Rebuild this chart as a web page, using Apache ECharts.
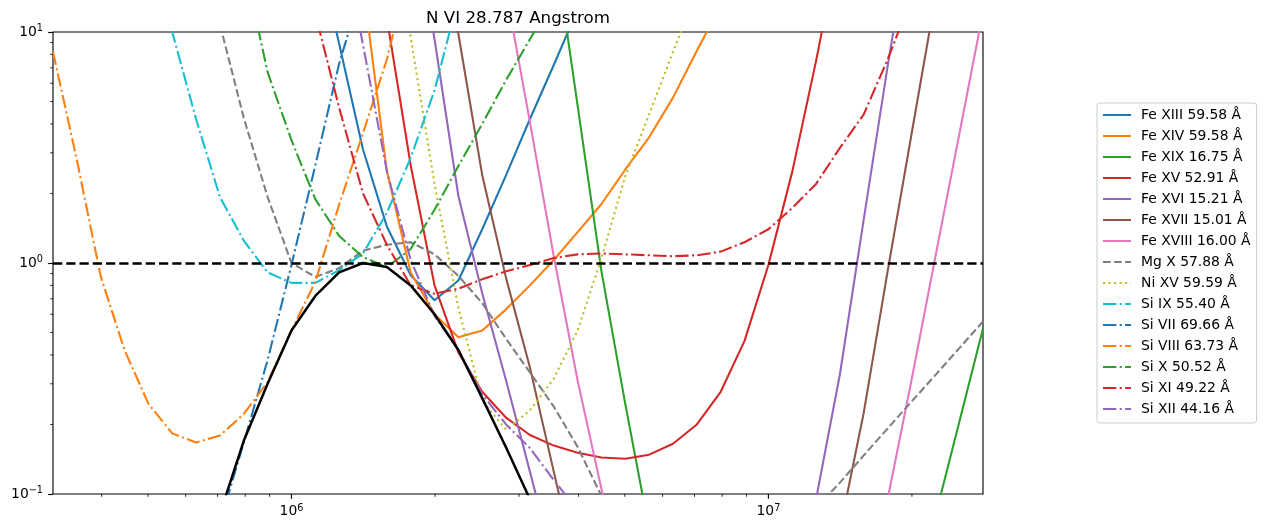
<!DOCTYPE html>
<html>
<head>
<meta charset="utf-8">
<script src="https://cdn.jsdelivr.net/npm/echarts@6/dist/echarts.min.js"></script>
<style>
html,body{margin:0;padding:0;background:#fff;}
#chart{width:1264px;height:532px;}
</style>
</head>
<body>
<div id="chart"></div>
<script>
// ---------- DATA ----------
const pad = n => Array(n).fill(null);

// log10 temperature grid (K)
const logT = [5.50,5.55,5.60,5.65,5.70,5.75,5.80,5.85,5.90,5.95,
              6.00,6.05,6.10,6.15,6.20,6.25,6.30,6.35,6.40,6.45,
              6.50,6.55,6.60,6.65,6.70,6.75,6.80,6.85,6.90,6.95,
              7.00,7.05,7.10,7.15,7.20,7.25,7.30,7.35,7.40,7.45];

const lineNames = ['Fe XIII 59.58 Å','Fe XIV 59.58 Å','Fe XIX 16.75 Å','Fe XV 52.91 Å',
  'Fe XVI 15.21 Å','Fe XVII 15.01 Å','Fe XVIII 16.00 Å','Mg X 57.88 Å','Ni XV 59.59 Å',
  'Si IX 55.40 Å','Si VII 69.66 Å','Si VIII 63.73 Å','Si X 50.52 Å','Si XI 49.22 Å','Si XII 44.16 Å'];

const feXIII  = [...pad(11), 25, 8.9, 3.1, 1.44, 0.885, 0.69, 0.84, 1.4, 2.4, 4.2, 7.2, 12.5, ...pad(17)];
const feXIV   = [...pad(13), 16, 2.5, 0.91, 0.60, 0.477, 0.51, 0.63, 0.80, 1.03, 1.36, 1.8, 2.54, 3.5, 5.2, 8.3, 13, ...pad(11)];
const feXIX   = [...pad(21), 25, 4.8, 0.92, 0.245, 0.07, ...pad(11), 0.08, 0.204, 0.52];
const feXV    = [...pad(13), 30, 11.5, 2.65, 0.80, 0.41, 0.277, 0.214, 0.18, 0.162, 0.151, 0.144, 0.142, 0.148, 0.165, 0.2, 0.277, 0.46, 0.98, 2.48, 7.5, 25, ...pad(6)];
const feXVI   = [...pad(15), 40, 9.3, 1.95, 0.74, 0.31, 0.125, 0.05, ...pad(10), 0.095, 0.33, 1.55, 7.1, 30, ...pad(3)];
const feXVII  = [...pad(16), 40, 9.8, 2.4, 0.86, 0.353, 0.125, 0.045, ...pad(10), 0.07, 0.225, 0.92, 3.6, 14, ...pad(2)];
const feXVIII = [...pad(19), 15, 4.07, 1.07, 0.31, 0.105, 0.035, ...pad(10), 0.095, 0.31, 1.06, 3.58, 12.2];
const mgX     = [...pad(6), 25, 10.8, 4.25, 1.93, 1.0, 0.87, 0.95, 1.13, 1.2, 1.23, 1.09, 0.88, 0.67, 0.47, 0.336, 0.239, 0.16, 0.098, 0.06, ...pad(7), 0.087, 0.112, 0.147, 0.192, 0.251, 0.327, 0.427, 0.558];
const niXV    = [...pad(14), 40, 9.5, 2.2, 0.64, 0.253, 0.19, 0.23, 0.316, 0.51, 1.05, 2.38, 4.4, 8.2, 15, ...pad(12)];
const siIX    = [...pad(4), 30, 10, 4.2, 1.93, 1.25, 0.91, 0.82, 0.82, 0.93, 1.1, 1.65, 2.85, 5.6, 14, ...pad(22)];
const siVII   = [...pad(7), 0.075, 0.167, 0.38, 0.98, 2.65, 7.3, 16, ...pad(26)];
const siVIII  = [8.2, 2.8, 0.875, 0.42, 0.246, 0.183, 0.167, 0.179, 0.222, 0.305, 0.51, 0.83, 1.79, 3.65, 7.6, 20, ...pad(24)];
const siX     = [...pad(8), 20, 6.7, 3.4, 1.89, 1.31, 1.06, 0.96, 1.15, 1.7, 2.63, 4.0, 6.2, 9.3, 14, ...pad(18)];
const siXI    = [...pad(10), 40, 12, 4.7, 2.0, 1.2, 0.80, 0.736, 0.774, 0.85, 0.92, 0.98, 1.05, 1.09, 1.10, 1.09, 1.08, 1.07, 1.08, 1.12, 1.23, 1.4, 1.73, 2.2, 3.15, 4.4, 7.6, 14, ...pad(3)];
const siXII   = [...pad(12), 30, 8.8, 2.5, 1.03, 0.59, 0.42, 0.27, 0.2, 0.158, 0.115, 0.085, ...pad(17)];
const nVI     = [...pad(7), 0.082, 0.17, 0.30, 0.51, 0.72, 0.91, 1.0, 0.96, 0.80, 0.60, 0.42, 0.26, 0.159, 0.095, ...pad(19)];

const lineValues = [feXIII, feXIV, feXIX, feXV, feXVI, feXVII, feXVIII, mgX, niXV,
                    siIX, siVII, siVIII, siX, siXI, siXII];

// axis ranges and tick positions
const xRange = [Math.pow(10, 5.5), Math.pow(10, 7.45)];
const yRange = [0.1, 10];
const xMajorTicks = [1e6, 1e7];
const xMinorTicks = [4e5,5e5,6e5,7e5,8e5,9e5,2e6,3e6,4e6,5e6,6e6,7e6,8e6,9e6,2e7];
const yMinorTicks = [0.2,0.3,0.4,0.5,0.6,0.7,0.8,0.9,2,3,4,5,6,7,8,9];

// ---------- STYLE ----------
const FONT = 'DejaVu Sans';
const PT = 100 / 72;
const tab = ['#1f77b4','#ff7f0e','#2ca02c','#d62728','#9467bd','#8c564b','#e377c2','#7f7f7f','#bcbd22','#17becf'];
const lw = 1.5 * PT;
const dashDot = [6.4*lw, 1.6*lw, 1*lw, 1.6*lw];
const dashed = [3.7*lw, 1.6*lw];
const dotted = [1*lw, 1.65*lw];
const blackW = 1.8 * PT;
const styles = [
  ['solid', tab[0]], ['solid', tab[1]], ['solid', tab[2]], ['solid', tab[3]],
  ['solid', tab[4]], ['solid', tab[5]], ['solid', tab[6]], [dashed, tab[7]],
  [dotted, tab[8]], [dashDot, tab[9]], [dashDot, tab[0]], [dashDot, tab[1]],
  [dashDot, tab[2]], [dashDot, tab[3]], [dashDot, tab[4]]
];

const toPairs = arr => arr.map((v, i) => [Math.pow(10, logT[i]), v]);

const series = lineNames.map((name, k) => ({
  name: name,
  type: 'line',
  data: toPairs(lineValues[k]),
  symbol: 'none',
  connectNulls: false,
  clip: true,
  z: 2,
  lineStyle: {color: styles[k][1], width: lw, type: styles[k][0], join: 'round'},
  itemStyle: {color: styles[k][1]},
  emphasis: {disabled: true}
}));

series.push({
  name: 'N VI',
  type: 'line',
  data: toPairs(nVI),
  symbol: 'none',
  clip: true,
  z: 3,
  lineStyle: {color: '#000', width: blackW, join: 'round'},
  itemStyle: {color: '#000'},
  emphasis: {disabled: true},
  markLine: {
    silent: true, symbol: 'none', animation: false,
    label: {show: false},
    lineStyle: {color: '#000', width: blackW, type: [3.7*blackW, 1.6*blackW]},
    data: [{yAxis: 1}]
  }
});

// tick marks drawn through the axes' scales
const tickSeries = (data, horizontal, len, w) => ({
  type: 'custom',
  coordinateSystem: 'cartesian2d',
  silent: true,
  clip: false,
  z: 10,
  data: data,
  renderItem: (params, api) => {
    const p = api.coord([api.value(0), api.value(1)]);
    const shape = horizontal
      ? {x1: p[0] - len, y1: p[1], x2: p[0], y2: p[1]}
      : {x1: p[0], y1: p[1], x2: p[0], y2: p[1] + len};
    return {type: 'line', shape: shape, style: {stroke: '#000', lineWidth: w}};
  }
});
series.push(tickSeries(xMajorTicks.map(v => [v, yRange[0]]), false, 3.5*PT, 0.8*PT));
series.push(tickSeries(xMinorTicks.map(v => [v, yRange[0]]), false, 2*PT, 0.6*PT));
series.push(tickSeries(yMinorTicks.map(v => [xRange[0], v]), true, 2*PT, 0.6*PT));

const powLabel = v => {
  const e = Math.log10(v);
  if (Math.abs(e - Math.round(e)) > 1e-6) return '';
  const r = Math.round(e);
  return '{a|10}{b|' + (r < 0 ? '\u2212' + (-r) : r) + '}';
};
const richLabel = {
  a: {fontSize: 13.9, fontFamily: FONT, color: '#000', lineHeight: 17},
  b: {fontSize: 9.7, fontFamily: FONT, color: '#000', lineHeight: 10, verticalAlign: 'top'}
};

const option = {
  animation: false,
  backgroundColor: '#fff',
  title: {
    text: 'N VI 28.787 Angstrom',
    left: 518, top: 10, textAlign: 'center', padding: 0,
    textStyle: {fontFamily: FONT, fontSize: 16.7, fontWeight: 'normal', color: '#000'}
  },
  grid: {
    left: 53, top: 32, width: 930, height: 462,
    show: true, borderColor: '#000', borderWidth: 0.8*PT, backgroundColor: 'transparent',
    containLabel: false, outerBoundsMode: 'none'
  },
  legend: {
    data: lineNames,
    orient: 'vertical',
    left: 1097, top: 103,
    padding: [5, 6, 7, 5],
    itemGap: 7, itemWidth: 28, itemHeight: 14,
    backgroundColor: '#fff', borderColor: '#cccccc', borderWidth: 1, borderRadius: 3,
    selectedMode: false,
    itemStyle: {opacity: 0},
    textStyle: {fontFamily: FONT, fontSize: 13.9, color: '#000', padding: [0, 0, 0, 5]}
  },
  xAxis: {
    type: 'log', logBase: 10, min: xRange[0], max: xRange[1],
    axisLine: {show: false},
    axisTick: {show: false},
    splitLine: {show: false},
    minorTick: {show: false},
    axisLabel: {
      margin: 9, showMinLabel: false, showMaxLabel: false,
      fontFamily: FONT, fontSize: 13.9, color: '#000',
      formatter: v => powLabel(v), rich: richLabel
    }
  },
  yAxis: {
    type: 'log', logBase: 10, min: yRange[0], max: yRange[1],
    axisLine: {show: false},
    axisTick: {show: true, inside: false, length: 3.5*PT, lineStyle: {color: '#000', width: 0.8*PT}},
    splitLine: {show: false},
    axisLabel: {
      margin: 10,
      fontFamily: FONT, fontSize: 13.9, color: '#000',
      formatter: v => powLabel(v), rich: richLabel
    }
  },
  series: series
};

const chart = echarts.init(document.getElementById('chart'), null, {renderer: 'canvas'});
chart.setOption(option);
</script>
</body>
</html>
